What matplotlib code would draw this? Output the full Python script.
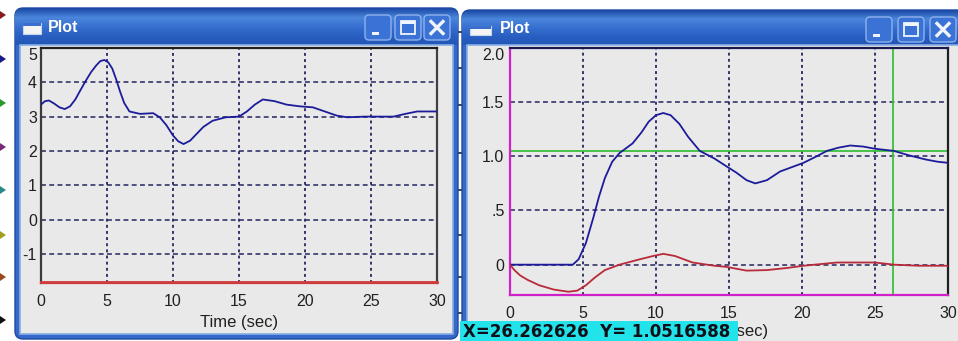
import numpy as np
import matplotlib
matplotlib.use("Agg")
import matplotlib.pyplot as plt
from matplotlib.patches import FancyBboxPatch, Rectangle, Polygon
from matplotlib.colors import LinearSegmentedColormap

plt.rcParams["axes.unicode_minus"] = False

W, H = 958, 341

# left scope: one signal plus the red trace lying on the bottom edge
t_left = [0, 0.3, 0.6, 1.0, 1.4, 1.8, 2.2, 2.6, 3.0, 3.4, 3.8, 4.2, 4.5, 4.8, 5.1,
          5.4, 5.7, 6.0, 6.3, 6.7, 7.5, 8.5, 9.0, 9.5, 10.0, 10.4, 10.8, 11.3, 11.8,
          12.3, 13, 14, 15, 15.6, 16.2, 16.8, 17.7, 18.6, 19.6, 20.6, 21.5, 22.4,
          23.2, 24.5, 25.5, 26.7, 27.6, 28.5, 30]
y_left = [3.35, 3.45, 3.47, 3.38, 3.27, 3.22, 3.3, 3.5, 3.78, 4.05, 4.3, 4.5, 4.62,
          4.65, 4.58, 4.4, 4.08, 3.72, 3.4, 3.15, 3.08, 3.1, 2.98, 2.75, 2.45, 2.28,
          2.2, 2.3, 2.5, 2.7, 2.88, 2.98, 3.0, 3.15, 3.35, 3.5, 3.45, 3.35, 3.3,
          3.27, 3.15, 3.03, 2.98, 3.0, 3.0, 3.0, 3.08, 3.15, 3.15]
t_left_red = [0, 30]
y_left_red = [-1.83, -1.83]
left_yticks = [-1, 0, 1, 2, 3, 4, 5]

# right scope: response (blue) and error (red) with a cursor
t_blue = [0, 4.3, 4.7, 5.2, 5.7, 6.1, 6.5, 7.0, 7.5, 8.4, 9.0, 9.5, 10.0, 10.5,
          11.0, 11.6, 12.2, 13.0, 14.0, 14.8, 15.5, 16.2, 16.8, 17.6, 18.5, 19.3,
          20.1, 21.0, 21.7, 22.5, 23.3, 24.2, 25.0, 26.3, 27.3, 28.5, 29.3, 30]
y_blue = [0, 0, 0.05, 0.2, 0.43, 0.63, 0.8, 0.95, 1.03, 1.12, 1.22, 1.32, 1.38, 1.4,
          1.38, 1.3, 1.18, 1.05, 0.98, 0.91, 0.85, 0.78, 0.75, 0.78, 0.86, 0.9,
          0.94, 1.0, 1.05, 1.08, 1.1, 1.09, 1.07, 1.05, 1.01, 0.97, 0.95, 0.94]
t_red = [0, 0.3, 0.7, 1.2, 2.0, 3.0, 4.0, 4.6, 5.2, 5.8, 6.5, 7.5, 8.9, 9.8, 10.5,
         11.3, 12.5, 14.0, 14.8, 16.2, 17.6, 19.0, 20.1, 22.4, 25.0, 26.3, 28.0, 30]
y_red = [0, -0.05, -0.1, -0.14, -0.19, -0.23, -0.25, -0.24, -0.19, -0.12, -0.05,
         0.0, 0.05, 0.08, 0.1, 0.08, 0.02, -0.01, -0.02, -0.055, -0.05, -0.03,
         -0.01, 0.02, 0.02, 0.0, -0.01, -0.01]
right_yticks = [0, 0.5, 1.0, 1.5, 2.0]
right_yticklabels = ["0", ".5", "1.0", "1.5", "2.0"]
cursor_x = 26.262626
cursor_y = 1.0516588

xticks = [0, 5, 10, 15, 20, 25, 30]

GRID = "#25255e"
BODY = "#e9e9e9"
FONT = "Liberation Sans"

fig = plt.figure(figsize=(W / 100, H / 100), dpi=100)
fig.patch.set_facecolor("white")

bg = fig.add_axes([0, 0, 1, 1])
bg.set_xlim(0, W)
bg.set_ylim(H, 0)
bg.axis("off")

bar_cmap = LinearSegmentedColormap.from_list(
    "bar", ["#1a48a4", "#4a86dc", "#3770d0", "#2a5fc2", "#2256b6"])
grad = np.linspace(0, 1, 64).reshape(-1, 1)


def button(x0, y0, w, h, kind):
    bg.add_patch(FancyBboxPatch((x0, y0), w, h, boxstyle="round,pad=0,rounding_size=4",
                                fc="#3a72d6", ec="#8fb2ec", lw=1.0, zorder=4))
    cx, cy = x0 + w / 2, y0 + h / 2
    if kind == "min":
        bg.add_patch(Rectangle((x0 + 7, y0 + h - 8), 7, 3, fc="#f0f4fc", ec="none", zorder=5))
    elif kind == "max":
        bg.add_patch(Rectangle((x0 + 6, y0 + 6), w - 12, h - 12, fc="none", ec="#f0f4fc",
                               lw=1.3, zorder=5))
        bg.add_patch(Rectangle((x0 + 6, y0 + 6), w - 12, 3, fc="#f0f4fc", ec="none", zorder=5))
    else:
        d = 6
        bg.plot([cx - d, cx + d], [cy - d, cy + d], color="#f0f4fc", lw=2.4, zorder=5)
        bg.plot([cx - d, cx + d], [cy + d, cy - d], color="#f0f4fc", lw=2.4, zorder=5)


def window(x0, y0, x1, y1, bar_h, btn_x, title_x, icon):
    frame = FancyBboxPatch((x0, y0), x1 - x0, y1 - y0,
                           boxstyle="round,pad=0,rounding_size=8",
                           fc="#3568c8", ec="#1d4aa2", lw=1.0, zorder=1)
    bg.add_patch(frame)
    im = bg.imshow(grad, cmap=bar_cmap, extent=(x0, x1, y0 + bar_h, y0),
                   aspect="auto", zorder=2)
    im.set_clip_path(frame)
    bg.add_patch(Rectangle((x0 + 5, y0 + bar_h), x1 - x0 - 10, y1 - y0 - bar_h - 5,
                           fc=BODY, ec="#86aee6", lw=1.2, zorder=3))
    ix, iy, iw, ih = icon
    bg.add_patch(Rectangle((ix, iy), iw, ih, fc="#f4f4f4", ec="#c8d4ea", lw=0.8, zorder=4))
    bg.add_patch(Rectangle((ix, iy), iw, 3, fc="#3b6fcf", ec="none", zorder=5))
    bg.text(title_x, y0 + bar_h / 2 + 1, "Plot", color="white", fontsize=11.5,
            fontweight="bold", family=FONT, va="center", ha="left", zorder=5)
    for bx, kind in zip(btn_x, ["min", "max", "close"]):
        button(bx, y0 + 7, 26, 25, kind)


window(15, 8, 458, 339, 37, [365, 395, 424], 48, (23, 23, 18, 11))
window(462, 10, 990, 380, 35, [866, 898, 930], 500, (470, 26, 21, 9))

# port markers of the model window behind
marker_y = [15, 59, 103, 147, 190, 235, 277, 320]
marker_c = ["#8b1a1a", "#1a1a8b", "#2a9a2a", "#7a2a7a", "#2a8a8a", "#a0a020", "#9a4a1a", "#111111"]
for my, mc in zip(marker_y, marker_c):
    bg.add_patch(Polygon([[0, my - 4], [6, my], [0, my + 4]], closed=True, fc=mc, ec="none", zorder=1))
for my in [32, 68, 105, 153, 190, 235, 277, 313]:
    bg.plot([458, 462], [my, my], color="#222222", lw=1.2, zorder=0.5)


def px_axes(x0, y0, x1, y1):
    return fig.add_axes([x0 / W, 1 - y1 / H, (x1 - x0) / W, (y1 - y0) / H])


def style_grid(ax, xt, yt):
    for v in xt[1:-1]:
        ax.axvline(v, color=GRID, lw=1.3, ls=(0, (1.6, 1.8)), zorder=1)
    for v in yt:
        ax.axhline(v, color=GRID, lw=1.1, ls=(0, (3.2, 2.2)), zorder=1)


# left scope
axl = px_axes(41, 48, 437, 283)
axl.set_facecolor(BODY)
style_grid(axl, xticks, left_yticks[:-1])
axl.plot(t_left, y_left, color="#1c1c9a", lw=1.3, zorder=3)
axl.plot(t_left_red, y_left_red, color="#d03a3a", lw=2.0, zorder=3, clip_on=False)
axl.set_xlim(0, 30)
axl.set_ylim(-1.85, 5)
axl.set_xticks(xticks)
axl.set_yticks(left_yticks)
axl.tick_params(length=0, labelsize=11.5, colors="#202020")
axl.tick_params(axis="x", pad=8)
axl.tick_params(axis="y", pad=3)
axl.yaxis.get_major_ticks()[-1].label1.set_va("top")
for lab in axl.get_xticklabels() + axl.get_yticklabels():
    lab.set_family(FONT)
axl.set_xlabel("Time (sec)", fontsize=12, family=FONT, labelpad=4, color="#202020")
for side, c in [("left", "#3a3a3a"), ("top", "#202020"), ("right", "#404040"), ("bottom", "#d03a3a")]:
    axl.spines[side].set_color(c)
    axl.spines[side].set_linewidth(1.6)

# right scope
axr = px_axes(510, 48, 948, 295)
axr.set_facecolor(BODY)
style_grid(axr, xticks, right_yticks[:-1])
axr.axhline(cursor_y, color="#3cc03c", lw=1.3, zorder=2)
axr.axvline(cursor_x, color="#3cc03c", lw=1.3, zorder=2)
axr.plot(t_blue, y_blue, color="#1c1c9a", lw=1.3, zorder=3)
axr.plot(t_red, y_red, color="#b82a3a", lw=1.3, zorder=3)
axr.set_xlim(0, 30)
axr.set_ylim(-0.28, 2.0)
axr.set_xticks(xticks)
axr.set_yticks(right_yticks, right_yticklabels)
axr.tick_params(length=0, labelsize=11.5, colors="#202020")
axr.tick_params(axis="x", pad=8)
axr.tick_params(axis="y", pad=4)
axr.yaxis.get_major_ticks()[-1].label1.set_va("top")
for lab in axr.get_xticklabels() + axr.get_yticklabels():
    lab.set_family(FONT)
axr.set_xlabel("Time (sec)", fontsize=12, family=FONT, labelpad=2, color="#202020")
for side, c in [("left", "#d020c8"), ("top", "#1a1a50"), ("right", "#202020"), ("bottom", "#d020c8")]:
    axr.spines[side].set_color(c)
    axr.spines[side].set_linewidth(1.6)

# cursor readout strip
top = fig.add_axes([0, 0, 1, 1])
top.set_xlim(0, W)
top.set_ylim(H, 0)
top.axis("off")
top.patch.set_alpha(0)
top.add_patch(Rectangle((460, 321), 278, 22, fc="#22e2ea", ec="none"))
top.text(463, 332, f"X={cursor_x:.6f}  Y= {cursor_y:.7f}", fontsize=12,
         fontweight="bold", family="DejaVu Sans", color="#101018", va="center", ha="left")

fig.savefig("out.png", dpi=100)
